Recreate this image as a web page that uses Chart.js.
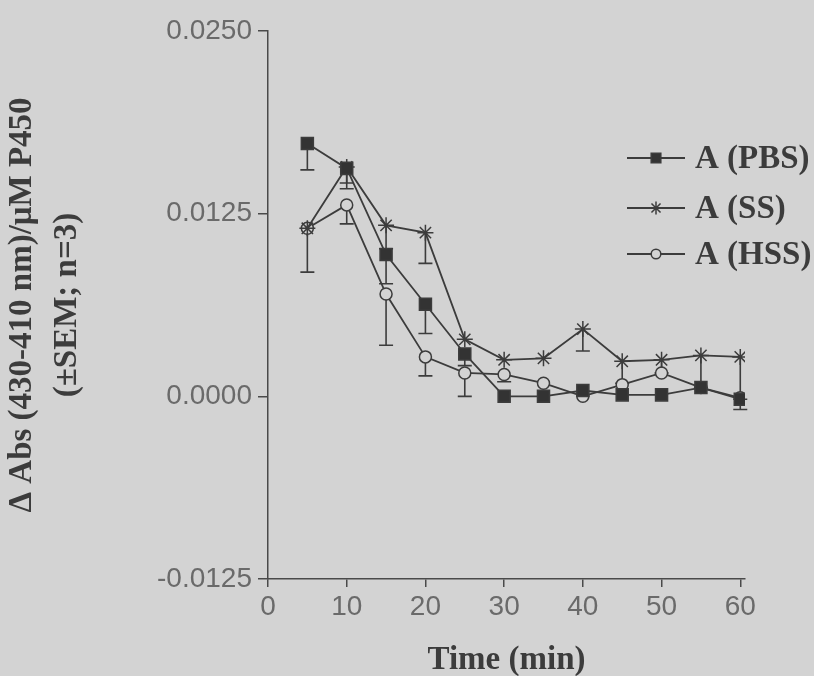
<!DOCTYPE html>
<html>
<head>
<meta charset="utf-8">
<script src="https://cdn.jsdelivr.net/npm/chart.js@4/dist/chart.umd.min.js"></script>
<style>
  html, body { margin: 0; padding: 0; background: #d3d3d3; }
  #wrap { width: 814px; height: 676px; }
</style>
</head>
<body>
<div id="wrap"><canvas id="absChart" width="814" height="676"></canvas></div>
<script>
'use strict';
// sampling times (min)
var times = [5, 10, 15, 20, 25, 30, 35, 40, 45, 50, 55, 60];
// mean change in absorbance per uM P450, and the SEM (n=3)
var pbsMean = [0.0173, 0.0156, 0.0097, 0.0063, 0.0029, 0.0000, 0.0000, 0.0004, 0.0001, 0.0001, 0.0006, -0.0002];
var pbsSem = [0.0018, 0.0010, 0.0020, 0.0020, 0.0008, 0, 0, 0, 0, 0, 0, 0.0007];
var ssMean = [0.0115, 0.0157, 0.0117, 0.0112, 0.0039, 0.0025, 0.0026, 0.0046, 0.0024, 0.0025, 0.0028, 0.0027];
var ssSem = [0, 0.0015, 0.0016, 0.0021, 0, 0, 0, 0.0015, 0.0015, 0.0009, 0.0022, 0.0029];
var hssMean = [0.0115, 0.0131, 0.0070, 0.0027, 0.0016, 0.0015, 0.0009, 0.0000, 0.0008, 0.0016, 0.0006, -0.0001];
var hssSem = [0.0030, 0.0013, 0.0035, 0.0013, 0.0016, 0.0005, 0, 0, 0, 0, 0, 0];
var seriesNames = ['A (PBS)', 'A (SS)', 'A (HSS)'];
var xTicks = [0, 10, 20, 30, 40, 50, 60];
var yTicks = [-0.0125, 0.0000, 0.0125, 0.0250];

var ink = '#3c3c3c';
var paper = '#d3d3d3';

function toPoints(ys, sems) {
  return times.map(function (t, i) { return {x: t, y: ys[i], sem: sems[i]}; });
}

// one sided (downward) error bars with a cap, drawn under the markers
var errorBars = {
  id: 'errorBars',
  beforeDatasetsDraw: function (chart) {
    var ctx = chart.ctx;
    var xs = chart.scales.x, ys = chart.scales.y;
    ctx.save();
    ctx.strokeStyle = ink;
    ctx.lineWidth = 1.6;
    chart.data.datasets.forEach(function (ds) {
      ds.data.forEach(function (p) {
        if (!p.sem) return;
        var px = xs.getPixelForValue(p.x);
        var top = ys.getPixelForValue(p.y);
        var bot = ys.getPixelForValue(p.y - p.sem);
        ctx.beginPath();
        ctx.moveTo(px, top);
        ctx.lineTo(px, bot);
        ctx.moveTo(px - 7, bot);
        ctx.lineTo(px + 7, bot);
        ctx.stroke();
      });
    });
    ctx.restore();
  }
};

// legend block to the right of the curves
var sideLegend = {
  id: 'sideLegend',
  afterDraw: function (chart) {
    var ctx = chart.ctx;
    var rows = [158, 208, 254];
    ctx.save();
    chart.data.datasets.forEach(function (ds, i) {
      var y = rows[i];
      ctx.strokeStyle = ink;
      ctx.lineWidth = 1.8;
      ctx.beginPath();
      ctx.moveTo(627, y);
      ctx.lineTo(685, y);
      ctx.stroke();
      ctx.fillStyle = ds.pointBackgroundColor;
      ctx.strokeStyle = ink;
      ctx.lineWidth = ds.pointBorderWidth;
      Chart.helpers.drawPoint(ctx, {pointStyle: ds.pointStyle, radius: ds.pointRadius * 0.8, rotation: 0, borderWidth: ds.pointBorderWidth}, 656, y);
      ctx.fillStyle = ink;
      ctx.font = 'bold 33px "Liberation Serif"';
      ctx.textAlign = 'left';
      ctx.textBaseline = 'middle';
      ctx.fillText(ds.label, 695, y + 1);
    });
    ctx.restore();
  }
};

function series(label, ys, sems, style, radius, fill) {
  return {
    label: label,
    data: toPoints(ys, sems),
    borderColor: ink,
    borderWidth: 1.8,
    pointStyle: style,
    pointRadius: radius,
    pointBorderWidth: 1.5,
    pointBorderColor: ink,
    pointBackgroundColor: fill,
    tension: 0
  };
}

var ctx = document.getElementById('absChart').getContext('2d');
new Chart(ctx, {
  type: 'line',
  data: {
    datasets: [
      series(seriesNames[0], pbsMean, pbsSem, 'rect', 8.5, '#333333'),
      series(seriesNames[1], ssMean, ssSem, 'star', 8, ink),
      series(seriesNames[2], hssMean, hssSem, 'circle', 6, paper)
    ]
  },
  options: {
    responsive: false,
    animation: false,
    layout: {padding: {top: 31, right: 69, left: 0, bottom: 0}},
    plugins: {legend: {display: false}, tooltip: {enabled: false}},
    scales: {
      x: {
        type: 'linear',
        min: 0,
        max: 60.6,
        afterBuildTicks: function (scale) { scale.ticks = xTicks.map(function (v) { return {value: v}; }); },
        afterFit: function (scale) { scale.height = 97; },
        grid: {display: true, drawOnChartArea: false, drawTicks: true, tickLength: 8, color: '#4a4a4a', lineWidth: 1.5},
        border: {display: true, color: '#4a4a4a', width: 1.5},
        ticks: {color: '#6a6a6a', font: {family: '"Liberation Sans"', size: 28}, padding: 3, maxRotation: 0},
        title: {display: true, text: 'Time (min)', color: ink, font: {family: '"Liberation Serif"', size: 33, weight: 'bold', lineHeight: '32px'}, padding: {top: 0, bottom: 0}}
      },
      y: {
        min: -0.0125,
        max: 0.025,
        afterBuildTicks: function (scale) { scale.ticks = yTicks.map(function (v) { return {value: v}; }); },
        afterFit: function (scale) { scale.width = 268; },
        grid: {display: true, drawOnChartArea: false, drawTicks: true, tickLength: 10, color: '#4a4a4a', lineWidth: 1.5},
        border: {display: true, color: '#4a4a4a', width: 1.5},
        ticks: {color: '#6a6a6a', font: {family: '"Liberation Sans"', size: 28}, padding: 6, callback: function (v) { return v.toFixed(4); }},
        title: {display: true, text: ['\u0394 Abs (430-410 nm)/\u03bcM P450', '(\u00b1SEM; n=3)'], color: ink, font: {family: '"Liberation Serif"', size: 33, weight: 'bold', lineHeight: '45px'}, padding: {top: 0, bottom: 0}}
      }
    }
  },
  plugins: [errorBars, sideLegend]
});
</script>
</body>
</html>
